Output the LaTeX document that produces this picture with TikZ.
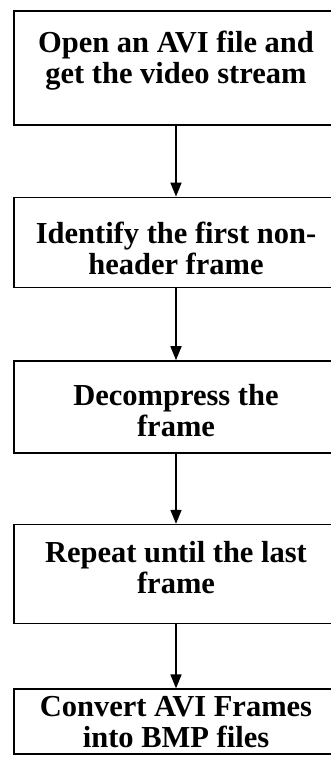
\documentclass[tikz,border=0pt]{standalone}
\usepackage{fontspec}
\setmainfont{Liberation Serif}
\usetikzlibrary{positioning,arrows.meta}

\tikzset{
    stepbox/.style={
        draw,
        line width=1.6pt,
        minimum width=324pt,
        align=center,
        inner sep=0pt,
        text depth=0pt,
        font=\bfseries\fontsize{30.5}{31}\selectfont
    },
    flow/.style={
        -{Triangle[length=14pt,width=11pt]},
        line width=1.6pt
    }
}

\begin{document}
\begin{tikzpicture}
\useasboundingbox (0pt,0pt) rectangle (331pt,-774pt);

% the five processing steps, top to bottom
\node[stepbox, minimum height=114pt, text height=32pt, anchor=north] (open) at (176pt,-10pt)
    {Open an AVI file and\\get the video stream};
\node[stepbox, minimum height=90pt, text height=64pt, below=71pt of open] (identify)
    {Identify the first non-\\header frame};
\node[stepbox, minimum height=92pt, text height=58pt, below=72pt of identify] (decompress)
    {Decompress the\\frame};
\node[stepbox, minimum height=99pt, text height=39pt, below=70pt of decompress] (repeat)
    {Repeat until the last\\frame};
\node[stepbox, minimum height=65pt, text height=51pt, below=64pt of repeat] (convert)
    {Convert AVI Frames\\into BMP files};

\draw[flow] (open) -- (identify);
\draw[flow] (identify) -- (decompress);
\draw[flow] (decompress) -- (repeat);
\draw[flow] (repeat) -- (convert);
\end{tikzpicture}
\end{document}
